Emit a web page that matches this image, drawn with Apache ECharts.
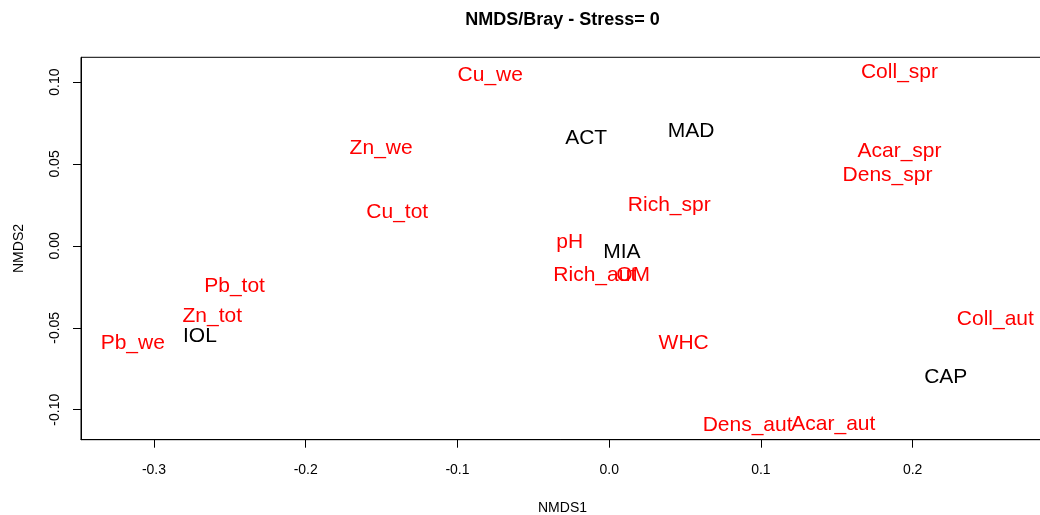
<!DOCTYPE html>
<html>
<head>
<meta charset="utf-8">
<script src="https://cdn.jsdelivr.net/npm/echarts@6/dist/echarts.min.js"></script>
<style>html,body{margin:0;padding:0;background:#fff;overflow:hidden}#c{width:1040px;height:515px}</style>
</head>
<body>
<div id="c"></div>
<script>
// Sites (black labels)
const siteNames = ['ACT', 'MAD', 'MIA', 'IOL', 'CAP'];
const siteX = [-0.0152, 0.0540, 0.0084, -0.2697, 0.2218];
const siteY = [0.0656, 0.0697, -0.0038, -0.0554, -0.0799];

// Variables (red labels)
const varNames = ['Cu_we', 'Zn_we', 'Cu_tot', 'Rich_spr', 'pH', 'Rich_aut', 'OM',
  'Coll_spr', 'Acar_spr', 'Dens_spr', 'Coll_aut', 'WHC', 'Dens_aut', 'Acar_aut',
  'Pb_tot', 'Zn_tot', 'Pb_we'];
const varX = [-0.0784, -0.1503, -0.1397, 0.0396, -0.0260, -0.0095, 0.0158,
  0.1913, 0.1913, 0.1834, 0.2545, 0.0491, 0.0912, 0.1477,
  -0.2469, -0.2616, -0.3140];
const varY = [0.1043, 0.0597, 0.0208, 0.0251, 0.0020, -0.0182, -0.0182,
  0.1063, 0.0577, 0.0431, -0.0445, -0.0597, -0.1092, -0.1086,
  -0.0247, -0.0430, -0.0593];

// Tick values
const xTicks = [-0.3, -0.2, -0.1, 0.0, 0.1, 0.2];
const yTicks = [-0.10, -0.05, 0.00, 0.05, 0.10];

const FONT = '"Liberation Sans", Arial, Helvetica, sans-serif';

function build(names, xs, ys) {
  return names.map((n, i) => ({ name: n, value: [xs[i], ys[i]] }));
}

const chart = echarts.init(document.getElementById('c'), null, { renderer: 'canvas' });

function textSeries(data, color) {
  return {
    type: 'scatter',
    data: data,
    symbolSize: 1,
    itemStyle: { color: 'transparent', opacity: 1 },
    silent: true,
    label: {
      show: true,
      position: 'inside',
      formatter: p => p.name,
      color: color,
      opacity: 1,
      textBorderWidth: 0,
      fontFamily: FONT,
      fontSize: 21,
      align: 'center',
      verticalAlign: 'middle'
    },
    emphasis: { disabled: true }
  };
}

chart.setOption({
  animation: false,
  backgroundColor: '#fff',
  grid: {
    left: 81, top: 57.3, width: 979, height: 382.4,
    outerBoundsMode: 'none',
    containLabel: false,
    show: true, borderColor: '#000', borderWidth: 1, backgroundColor: 'transparent'
  },
  graphic: [{
    type: 'text',
    x: 562.5, y: 20,
    style: {
      text: 'NMDS/Bray - Stress= 0',
      font: 'bold 18px ' + FONT,
      fill: '#000',
      textAlign: 'center',
      textVerticalAlign: 'middle'
    }
  }],
  xAxis: {
    type: 'value',
    min: -0.3481, max: 0.2971,
    name: 'NMDS1',
    nameLocation: 'middle',
    nameGap: 61,
    nameTextStyle: { color: '#000', fontFamily: FONT, fontSize: 14, padding: [0, 16, 0, 0] },
    axisLine: { show: true, onZero: false, lineStyle: { color: '#000', width: 1 } },
    axisTick: { show: true, length: 8, customValues: xTicks, lineStyle: { color: '#000' } },
    axisLabel: {
      show: true, margin: 23, customValues: xTicks,
      formatter: v => Number(v).toFixed(1),
      color: '#000', fontFamily: FONT, fontSize: 14
    },
    splitLine: { show: false }
  },
  yAxis: {
    type: 'value',
    min: -0.1183, max: 0.1151,
    name: 'NMDS2',
    nameLocation: 'middle',
    nameGap: 55,
    nameTextStyle: { color: '#000', fontFamily: FONT, fontSize: 14 },
    axisLine: { show: true, onZero: false, lineStyle: { color: '#000', width: 1 } },
    axisTick: { show: true, length: 8, customValues: yTicks, lineStyle: { color: '#000' } },
    axisLabel: {
      show: true, margin: 19, rotate: 90, customValues: yTicks,
      formatter: v => Number(v).toFixed(2),
      color: '#000', fontFamily: FONT, fontSize: 14
    },
    splitLine: { show: false }
  },
  series: [
    textSeries(build(varNames, varX, varY), '#ff0000'),
    textSeries(build(siteNames, siteX, siteY), '#000000')
  ]
});
</script>
</body>
</html>
